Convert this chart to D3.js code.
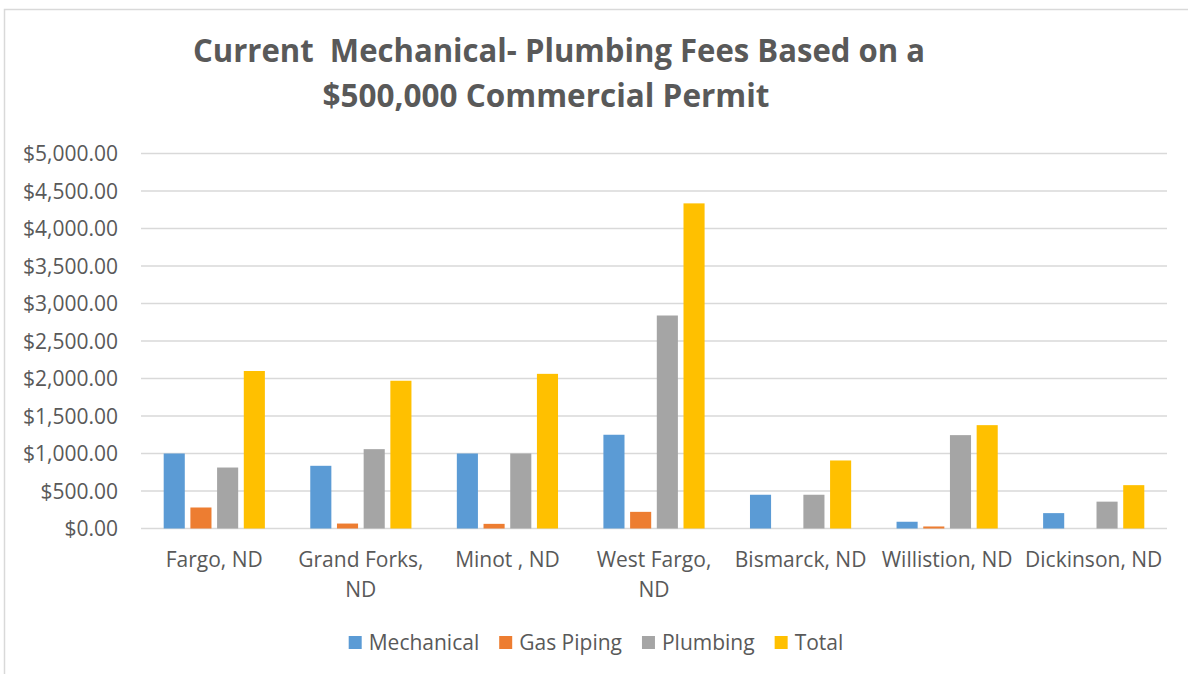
<!DOCTYPE html>
<html>
<head>
    <meta charset="utf-8">
    <style>
        body { margin: 0; background: #fff; }
        text { font-family: "Open Sans", sans-serif; fill: #595959; }
    </style>
</head>
<body>
    <svg width="1188" height="674"></svg>
    <script src="https://d3js.org/d3.v7.min.js"></script>
    <script>
        let cities = [["Fargo, ND"], ["Grand Forks,", "ND"], ["Minot , ND"], ["West Fargo,", "ND"],
                      ["Bismarck, ND"], ["Willistion, ND"], ["Dickinson, ND"]];
        let seriesNames = ["Mechanical", "Gas Piping", "Plumbing", "Total"];
        let mechanical = [1000, 836, 1000, 1250, 450, 90, 205];
        let gasPiping = [280, 66, 62, 222, 0, 27, 0];
        let plumbing = [813, 1058, 1000, 2840, 450, 1245, 358];
        let total = [2100, 1970, 2062, 4335, 907, 1378, 578];
        let yTicks = [0, 500, 1000, 1500, 2000, 2500, 3000, 3500, 4000, 4500, 5000];
        let colors = ["#5B9BD5", "#ED7D31", "#A5A5A5", "#FFC000"];
        let titleLines = ["Current  Mechanical- Plumbing Fees Based on a", "$500,000 Commercial Permit"];

        let values = [mechanical, gasPiping, plumbing, total];
        let svg = d3.select("svg");

        // chart border (runs off right / bottom edge)
        svg.append("path")
            .attr("d", "M4.5,680 V9.5 H1200")
            .attr("fill", "none")
            .attr("stroke", "#d9d9d9")
            .attr("stroke-width", 1.5);

        let x0 = d3.scaleBand()
            .domain(d3.range(cities.length))
            .range([141, 1167]);
        let x1 = d3.scaleBand()
            .domain(d3.range(seriesNames.length))
            .range([0, x0.bandwidth()])
            .paddingInner(0.21)
            .paddingOuter(0.85);
        let y = d3.scaleLinear()
            .domain([0, 5000])
            .range([528.5, 153.5]);

        // gridlines
        svg.append("g")
            .selectAll("line")
            .data(yTicks)
            .enter()
            .append("line")
            .attr("x1", 141)
            .attr("x2", 1167)
            .attr("y1", function(d) { return y(d); })
            .attr("y2", function(d) { return y(d); })
            .attr("stroke", "#d9d9d9")
            .attr("stroke-width", 1.5);

        // y labels
        let fmt = d3.format("$,.2f");
        svg.append("g")
            .selectAll("text")
            .data(yTicks)
            .enter()
            .append("text")
            .attr("x", 118)
            .attr("y", function(d) { return y(d); })
            .attr("dy", "0.36em")
            .attr("text-anchor", "end")
            .style("font-size", "21px")
            .text(function(d) { return fmt(d); });

        // bars
        let groups = svg.append("g")
            .selectAll("g")
            .data(cities)
            .enter()
            .append("g")
            .attr("transform", function(d, i) { return "translate(" + x0(i) + ",0)"; });
        groups.selectAll("rect")
            .data(function(d, i) {
                return values.map(function(v, s) { return { s: s, v: v[i] }; });
            })
            .enter()
            .append("rect")
            .attr("x", function(d) { return x1(d.s); })
            .attr("width", x1.bandwidth())
            .attr("y", function(d) { return y(d.v); })
            .attr("height", function(d) { return y(0) - y(d.v); })
            .attr("fill", function(d) { return colors[d.s]; });

        // category labels
        svg.append("g")
            .selectAll("text")
            .data(cities)
            .enter()
            .append("text")
            .attr("text-anchor", "middle")
            .attr("x", function(d, i) { return x0(i) + x0.bandwidth() / 2; })
            .attr("y", 567)
            .style("font-size", "21px")
            .each(function(d) {
                let t = d3.select(this);
                d.forEach(function(line, k) {
                    t.append("tspan")
                        .attr("x", t.attr("x"))
                        .attr("dy", k == 0 ? 0 : 30)
                        .text(line);
                });
            });

        // title
        svg.append("text")
            .attr("x", 559)
            .attr("y", 62)
            .attr("text-anchor", "middle")
            .attr("textLength", 732)
            .attr("lengthAdjust", "spacingAndGlyphs")
            .style("font-size", "33px")
            .style("font-weight", "bold")
            .style("white-space", "pre")
            .text(titleLines[0]);
        svg.append("text")
            .attr("x", 546)
            .attr("y", 107)
            .attr("text-anchor", "middle")
            .attr("textLength", 447)
            .attr("lengthAdjust", "spacingAndGlyphs")
            .style("font-size", "33px")
            .style("font-weight", "bold")
            .text(titleLines[1]);

        // legend
        let legend = svg.append("g");
        let items = legend.selectAll("g")
            .data(seriesNames)
            .enter()
            .append("g");
        items.append("rect")
            .attr("width", 13)
            .attr("height", 13)
            .attr("y", 636)
            .attr("fill", function(d, i) { return colors[i]; });
        items.append("text")
            .attr("x", 20)
            .attr("y", 650)
            .style("font-size", "21px")
            .text(function(d) { return d; });
        let gap = 20, pos = 0, starts = [];
        items.each(function() {
            starts.push(pos);
            pos += 20 + this.querySelector("text").getComputedTextLength() + gap;
        });
        let legendW = pos - gap;
        let lx = 596 - legendW / 2;
        items.attr("transform", function(d, i) { return "translate(" + (lx + starts[i]) + ",0)"; });
    </script>
</body>
</html>
